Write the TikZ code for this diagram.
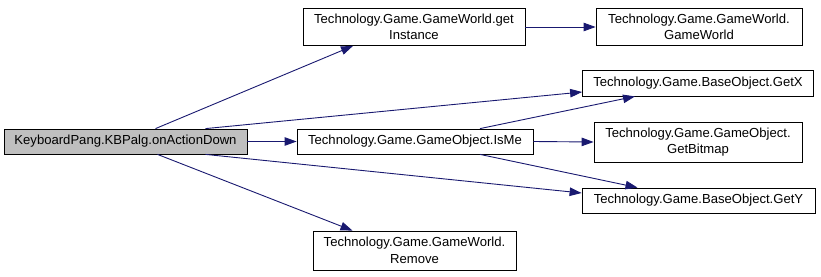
\documentclass[tikz,border=0pt]{standalone}
\usepackage{fontspec}
\setmainfont{Liberation Sans}
\usetikzlibrary{arrows.meta}
\definecolor{edgeblue}{HTML}{191970}
\definecolor{rootgray}{HTML}{BFBFBF}
\begin{document}
\begin{tikzpicture}[x=1pt,y=-1pt,
    box/.style={draw=black,line width=0.8pt,fill=white,inner sep=0pt,align=center,
        font=\fontsize{13.1}{16.5}\selectfont},
    call/.style={-{Triangle[length=12pt,width=8.5pt]},draw=edgeblue,line width=0.9pt}]
    \useasboundingbox (0,0) rectangle (821,276);
    \node[box,fill=rootgray,minimum width=243pt,minimum height=25pt] (root) at (125.5,141.5) {KeyboardPang.KBPalg.onActionDown};
    \node[box,minimum width=222pt,minimum height=37pt] (getinst) at (414,27) {Technology.Game.GameWorld.get\\Instance};
    \node[box,minimum width=206pt,minimum height=37pt] (gameworld) at (699,27) {Technology.Game.GameWorld.\\GameWorld};
    \node[box,minimum width=231pt,minimum height=26pt] (getx) at (698,83) {Technology.Game.BaseObject.GetX};
    \node[box,minimum width=236pt,minimum height=25pt] (isme) at (415,141.5) {Technology.Game.GameObject.IsMe};
    \node[box,minimum width=208pt,minimum height=40pt] (bitmap) at (698,142) {Technology.Game.GameObject.\\GetBitmap};
    \node[box,minimum width=233pt,minimum height=25pt] (gety) at (698.5,200.5) {Technology.Game.BaseObject.GetY};
    \node[box,minimum width=203pt,minimum height=39pt] (remove) at (414.5,250.5) {Technology.Game.GameWorld.\\Remove};
    \draw[call] ([xshift=30pt]root.north) -- ([xshift=-61pt]getinst.south);
    \draw[call] ([xshift=80pt]root.north) -- ([yshift=-9pt]getx.west);
    \draw[call] (root.east) -- (isme.west);
    \draw[call] ([xshift=80pt]root.south) -- ([yshift=7.5pt]gety.west);
    \draw[call] ([xshift=32pt]root.south) -- ([xshift=-62pt]remove.north);
    \draw[call] (getinst.east) -- (gameworld.west);
    \draw[call] ([xshift=65pt]isme.north) -- ([xshift=-63pt]getx.south);
    \draw[call] (isme.east) -- (bitmap.west);
    \draw[call] ([xshift=65pt]isme.south) -- ([xshift=-61pt]gety.north);
\end{tikzpicture}
\end{document}
